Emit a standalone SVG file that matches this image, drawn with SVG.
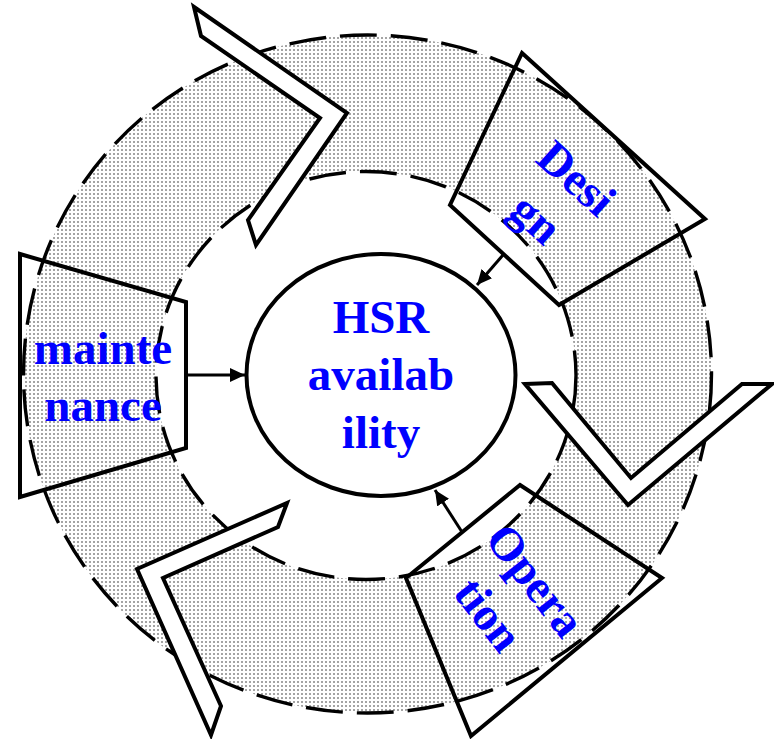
<svg xmlns="http://www.w3.org/2000/svg" width="774" height="739" viewBox="0 0 774 739">
  <defs>
    <pattern id="dots" width="4" height="4" patternUnits="userSpaceOnUse">
      <rect width="4" height="4" fill="#ffffff"/>
      <rect x="1" y="1" width="2" height="2" fill="#a4a4a4"/>
    </pattern>
    <marker id="head" markerUnits="userSpaceOnUse" markerWidth="16" markerHeight="14" refX="15" refY="7" orient="auto">
      <path d="M0,0 L15,7 L0,14 Z" fill="#000"/>
    </marker>
    <style>
      .dash { fill: none; stroke: #000; stroke-width: 3.4; stroke-dasharray: 37 14; }
      .chev { fill: #fff; stroke: #000; stroke-width: 4; stroke-linejoin: miter; }
      .box { fill: none; stroke: #000; stroke-width: 4; stroke-linejoin: miter; }
      .link { stroke: #000; stroke-width: 3; fill: none; }
      .lbl { font-family: "Liberation Serif", "Times New Roman", serif; font-weight: bold; font-size: 47px; fill: #0000ff; text-anchor: middle; }
    </style>
  </defs>

  <rect width="774" height="739" fill="#ffffff"/>

  <!-- dotted ring between the two dashed circles -->
  <g id="ring">
    <path fill="url(#dots)" fill-rule="evenodd"
          d="M23.5,374 a344,339 0 1,0 688,0 a344,339 0 1,0 -688,0 Z M156,375.5 a210,204 0 1,0 420,0 a210,204 0 1,0 -420,0 Z"/>
    <ellipse class="dash" cx="367.5" cy="374" rx="344" ry="339"/>
    <ellipse class="dash" cx="366" cy="375.5" rx="210" ry="204"/>
  </g>

  <!-- chevrons showing the clockwise cycle -->
  <g id="chevron-top">
    <polygon class="chev" points="194,7 201,36 320,118 248,220 256,245 347,113"/>
  </g>
  <g id="chevron-right">
    <polygon class="chev" points="525,384 552,383 631,478 742,384 772,384 628,505"/>
  </g>
  <g id="chevron-left">
    <polygon class="chev" points="287,503 278,527 163,578 221,706 211,735 137,569"/>
  </g>

  <!-- stage boxes -->
  <g id="design">
    <polygon class="box" points="522,53 705,219 559,305 450,205"/>
    <g transform="translate(566,190) rotate(42)">
      <text class="lbl" x="0" y="0">Desi</text>
      <text class="lbl" x="-3" y="57">gn</text>
    </g>
  </g>
  <g id="operation">
    <polygon class="box" points="520,485 662,578 471,736 406,578"/>
    <g transform="translate(523,590) rotate(52)">
      <text class="lbl" x="0" y="0">Opera</text>
      <text class="lbl" x="-2" y="58">tion</text>
    </g>
  </g>
  <g id="maintenance">
    <polygon class="box" points="20,254 186,302 186,448 20,497"/>
    <text class="lbl" x="103" y="364">mainte</text>
    <text class="lbl" x="103" y="421">nance</text>
  </g>

  <!-- central goal -->
  <g id="availability">
    <ellipse cx="381" cy="375" rx="134.5" ry="121" fill="#ffffff" stroke="#000" stroke-width="4"/>
    <text class="lbl" x="381" y="333">HSR</text>
    <text class="lbl" x="381" y="390">availab</text>
    <text class="lbl" x="381" y="448">ility</text>
  </g>

  <!-- arrows into the centre -->
  <g id="connectors">
    <line class="link" x1="503" y1="255" x2="477" y2="285" marker-end="url(#head)"/>
    <line class="link" x1="462" y1="532" x2="435" y2="490" marker-end="url(#head)"/>
    <line class="link" x1="188" y1="375" x2="245" y2="375" marker-end="url(#head)"/>
  </g>
</svg>
